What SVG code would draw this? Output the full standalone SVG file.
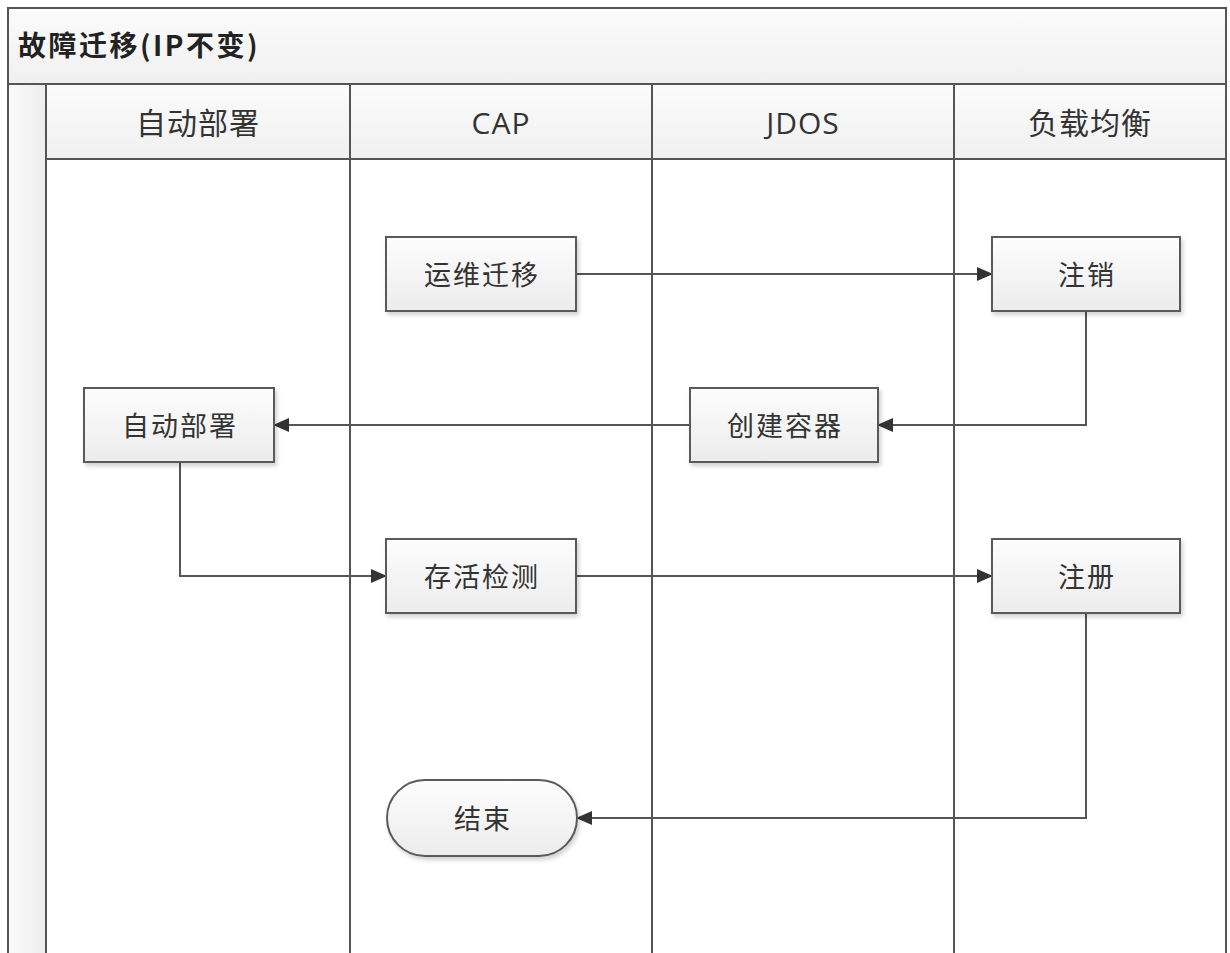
<svg xmlns="http://www.w3.org/2000/svg" width="1230" height="953" viewBox="0 0 1230 953">
<style>
  .frame{fill:none;stroke:#555;stroke-width:2}
  .lane{stroke:#555;stroke-width:2;fill:none}
  .box{fill:url(#nodeGrad);stroke:#5a5a5a;stroke-width:2;filter:url(#sh)}
  .t{font-family:"Open Sans","Noto Sans CJK SC",sans-serif;fill:#333;text-anchor:middle;dominant-baseline:central}
  .hd{font-size:30px;letter-spacing:1px}
  .nd{font-size:27px;letter-spacing:2px}
  .title{font-family:"Noto Sans CJK SC",sans-serif;font-size:28px;font-weight:bold;fill:#222;letter-spacing:2.5px}
  .edge{fill:none;stroke:#555;stroke-width:2}
</style>
<defs>
  <linearGradient id="nodeGrad" x1="0" y1="0" x2="0" y2="1">
    <stop offset="0" stop-color="#fdfdfd"/>
    <stop offset="1" stop-color="#ececec"/>
  </linearGradient>
  <linearGradient id="barGrad" x1="0" y1="0" x2="0" y2="1">
    <stop offset="0" stop-color="#fbfbfb"/>
    <stop offset="1" stop-color="#f0f0f0"/>
  </linearGradient>
  <linearGradient id="bandGrad" x1="0" y1="0" x2="1" y2="0">
    <stop offset="0" stop-color="#fafafa"/>
    <stop offset="1" stop-color="#ededed"/>
  </linearGradient>
  <filter id="sh" x="-10%" y="-10%" width="130%" height="140%">
    <feDropShadow dx="2" dy="3" stdDeviation="2" flood-color="#000" flood-opacity="0.18"/>
  </filter>
  <marker id="arr" viewBox="0 0 16 14" refX="15" refY="7" markerWidth="16" markerHeight="14" markerUnits="userSpaceOnUse" orient="auto">
    <path d="M0,0 L16,7 L0,14 Z" fill="#333"/>
  </marker>
</defs>
<rect width="1230" height="953" fill="#fff"/>

<g id="pool">
  <rect x="8" y="8" width="1218" height="76" fill="url(#barGrad)"/>
  <rect x="8" y="84" width="38" height="869" fill="url(#bandGrad)"/>
  <rect x="46" y="84" width="1180" height="75" fill="url(#barGrad)"/>
  <path class="frame" d="M8,953 V8 H1226 V953"/>
  <line class="lane" x1="8" y1="84" x2="1226" y2="84"/>
  <line class="lane" x1="46" y1="159" x2="1226" y2="159"/>
  <line class="lane" x1="46" y1="84" x2="46" y2="953"/>
  <line class="lane" x1="350" y1="84" x2="350" y2="953"/>
  <line class="lane" x1="652" y1="84" x2="652" y2="953"/>
  <line class="lane" x1="954" y1="84" x2="954" y2="953"/>
  <text class="title" x="18" y="56">故障迁移(IP不变)</text>
  <text class="t hd" x="198" y="122">自动部署</text>
  <text class="t hd" x="501" y="122">CAP</text>
  <text class="t hd" x="803" y="122">JDOS</text>
  <text class="t hd" x="1090" y="122">负载均衡</text>
</g>

<g id="connectors">
  <path class="edge" d="M576,274 H992" marker-end="url(#arr)"/>
  <path class="edge" d="M1086,311 V425 H878" marker-end="url(#arr)"/>
  <path class="edge" d="M690,425 H274" marker-end="url(#arr)"/>
  <path class="edge" d="M180,462 V576 H386" marker-end="url(#arr)"/>
  <path class="edge" d="M576,576 H992" marker-end="url(#arr)"/>
  <path class="edge" d="M1086,613 V818 H577" marker-end="url(#arr)"/>
</g>

<g id="n-yunwei">
  <rect class="box" x="386" y="237" width="190" height="74"/>
  <text class="t nd" x="482" y="274">运维迁移</text>
</g>
<g id="n-zhuxiao">
  <rect class="box" x="992" y="237" width="188" height="74"/>
  <text class="t nd" x="1087" y="274">注销</text>
</g>
<g id="n-chuangjian">
  <rect class="box" x="690" y="388" width="188" height="74"/>
  <text class="t nd" x="785" y="425">创建容器</text>
</g>
<g id="n-zidong">
  <rect class="box" x="84" y="388" width="190" height="74"/>
  <text class="t nd" x="180" y="425">自动部署</text>
</g>
<g id="n-cunhuo">
  <rect class="box" x="386" y="539" width="190" height="74"/>
  <text class="t nd" x="482" y="576">存活检测</text>
</g>
<g id="n-zhuce">
  <rect class="box" x="992" y="539" width="188" height="74"/>
  <text class="t nd" x="1087" y="576">注册</text>
</g>
<g id="n-end">
  <rect class="box" x="387" y="780" width="190" height="76" rx="38" ry="38"/>
  <text class="t nd" x="483" y="818">结束</text>
</g>
</svg>
